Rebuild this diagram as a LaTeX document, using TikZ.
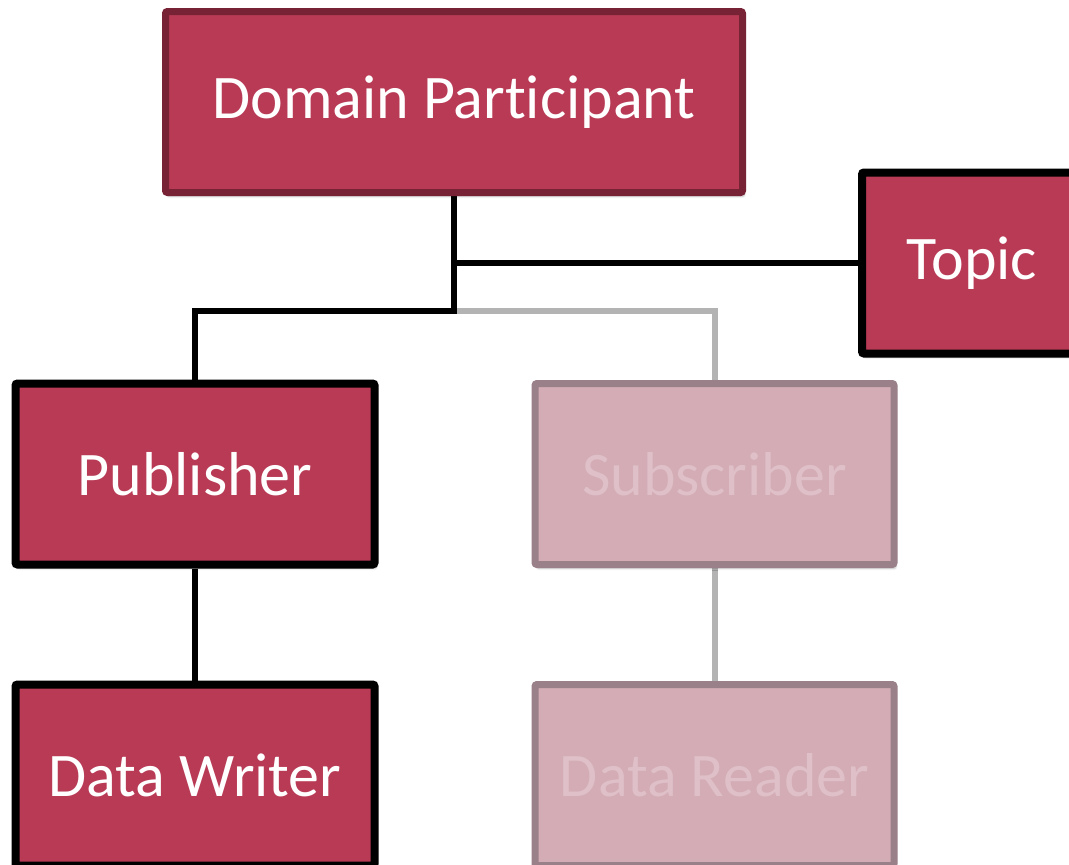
\documentclass[tikz,border=0pt]{standalone}
\usepackage{fontspec}
\setmainfont[Ligatures=NoCommon]{Carlito}
\usetikzlibrary{shadows.blur,backgrounds}
\definecolor{boxfill}{HTML}{B83A55}
\definecolor{dpborder}{HTML}{782335}
\definecolor{fadefill}{HTML}{D3ACB5}
\definecolor{fadeborder}{HTML}{9A8088}
\definecolor{fadetext}{HTML}{DFC0C8}
\definecolor{fadeline}{HTML}{B3B3B3}
\tikzset{
  box/.style={rectangle, rounded corners=2pt, inner sep=0pt, minimum width=359pt, minimum height=181pt,
    fill=boxfill, draw=black, line width=8pt, text=white, font=\fontsize{62}{70}\selectfont,
    blur shadow={shadow xshift=2pt, shadow yshift=-4pt, shadow blur steps=6, shadow opacity=25}},
  dpbox/.style={box, draw=dpborder, line width=7pt, minimum width=577pt},
  fadebox/.style={box, fill=fadefill, draw=fadeborder, text=fadetext, line width=7pt},
  conn/.style={line width=6.5pt, draw=black},
  fadeconn/.style={line width=6pt, draw=fadeline},
}
\begin{document}
\begin{tikzpicture}[x=1pt,y=-1pt]
\useasboundingbox (0,0) rectangle (1069,865);
\clip (0,0) rectangle (1069,865);
\node[dpbox] (dp) at (454,102) {Domain Participant};
\node[box, minimum width=220pt] (topic) at (972,263) {Topic};
\node[box] (pub) at (195,474) {Publisher};
\node[box] (dw) at (195,775) {Data Writer};
\node[fadebox] (sub) at (714.5,474) {Subscriber};
\node[fadebox] (dr) at (714.5,775) {Data Reader};
\coordinate (j1) at (dp.south |- 0,311);
\coordinate (j2) at (dp.south |- 0,263);
\begin{scope}[on background layer]
\draw[fadeconn] (j1) -| (sub.north);
\draw[fadeconn] (sub.south) -- (dr.north);
\draw[conn] (dp.south) -- (j1) -| (pub.north);
\draw[conn] (j2) -- (topic.west);
\draw[conn] (pub.south) -- (dw.north);
\end{scope}
\end{tikzpicture}
\end{document}
